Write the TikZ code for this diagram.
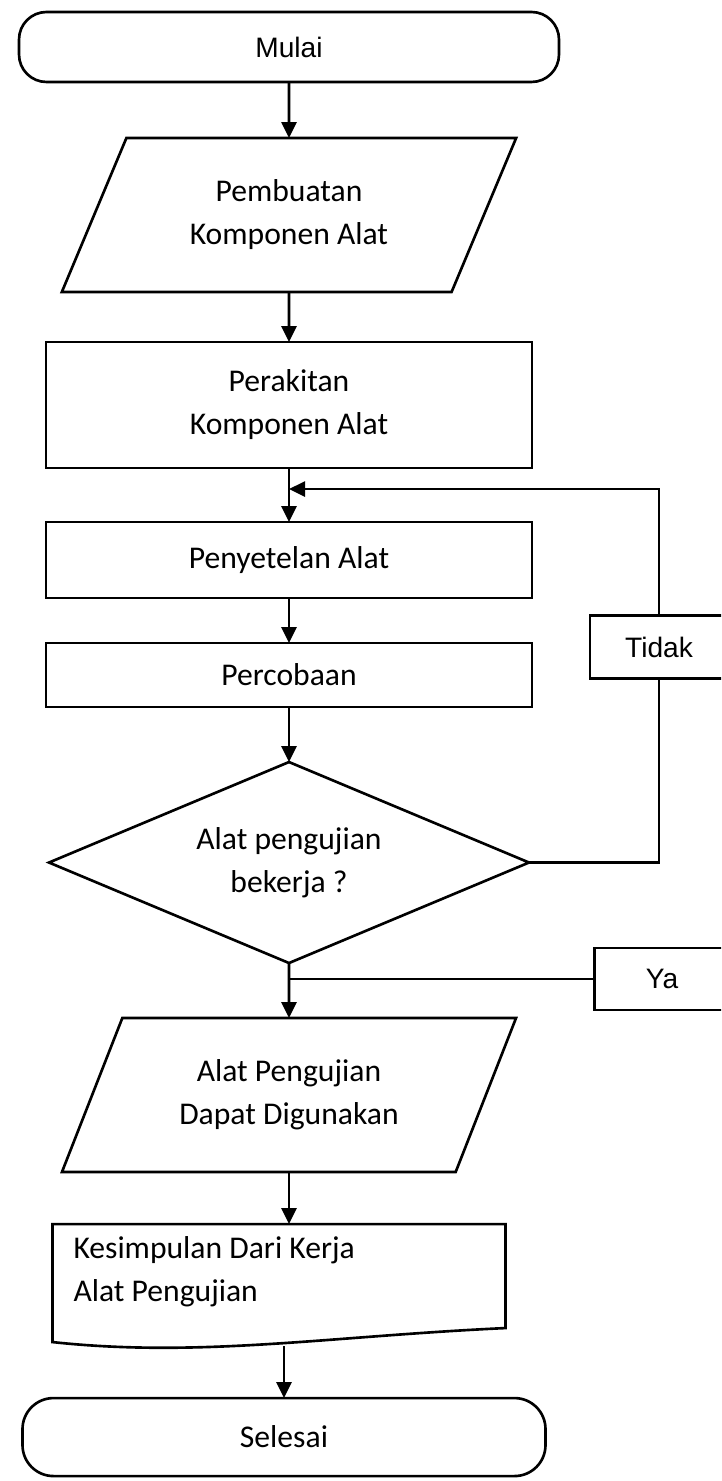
\documentclass[tikz,border=0pt]{standalone}
\usepackage{fontspec}
\setmainfont{Carlito}
\newfontfamily\arialfont{Liberation Sans}
\usetikzlibrary{shapes.geometric, arrows.meta, positioning, calc}

\begin{document}
\begin{tikzpicture}[
      every node/.style={outer sep=0pt},
      terminal/.style={rectangle, rounded corners=0.55cm, draw, line width=1.5pt, minimum width=10.8cm,
      minimum height=1.4cm, font=\fontsize{18}{24}\selectfont},
      proses/.style={rectangle, draw, line width=1.5pt, minimum width=9.72cm, align=center,
      font=\fontsize{18}{24.5}\selectfont},
      data/.style={trapezium, trapezium left angle=63, trapezium right angle=117, trapezium stretches=true,
      draw, line width=1.5pt, minimum width=9.1cm, minimum height=3.08cm, align=center,
      font=\fontsize{18}{24.5}\selectfont},
      keputusan/.style={diamond, aspect=2.4, draw, line width=1.5pt, minimum width=9.6cm, minimum height=4.02cm,
      inner sep=0pt, align=center, font=\fontsize{18}{24.5}\selectfont},
      dokumen/.style={rectangle, minimum width=9.06cm, minimum height=1.92cm, text width=8.22cm,
      inner xsep=0.42cm, align=flush left, font=\fontsize{18}{24.5}\selectfont},
      jawaban/.style={rectangle, draw, line width=1.5pt, minimum width=2.76cm, minimum height=1.26cm,
      font=\arialfont\fontsize{16}{20}\selectfont},
      garis/.style={line width=1.5pt},
      arrow/.style={-{Triangle[width=0.3cm, length=0.32cm]}, line width=1.5pt}
    ]
    \clip (0,0) rectangle (14.42,-29.62);

    \node[terminal, font=\arialfont\fontsize{16}{20}\selectfont] (mulai) at (5.78,-0.94) {Mulai};
    \node[data, below=1.12cm of mulai] (pembuatan) {Pembuatan\\Komponen Alat};
    \node[proses, minimum height=2.52cm, below=1.0cm of pembuatan] (perakitan) {Perakitan\\Komponen Alat};
    \node[proses, minimum height=1.52cm, below=1.08cm of perakitan] (penyetelan) {Penyetelan Alat};
    \node[proses, minimum height=1.28cm, below=0.9cm of penyetelan] (percobaan) {Percobaan};
    \node[keputusan, below=1.1cm of percobaan] (cek) {Alat pengujian\\bekerja ?};
    \node[data, below=1.1cm of cek] (hasil) {Alat Pengujian\\Dapat Digunakan};
    \node[dokumen, below=1.04cm of hasil, xshift=-0.2cm] (kesimpulan) {Kesimpulan Dari Kerja\\Alat Pengujian};
    \node[terminal, minimum width=10.46cm, minimum height=1.56cm, rounded corners=0.62cm,
      below=1.56cm of kesimpulan, xshift=0.1cm] (selesai) {Selesai};

    \node[jawaban] (tidak) at (13.18,-12.94) {Tidak};
    \node[jawaban, minimum width=2.7cm, minimum height=1.24cm] (ya) at (13.24,-19.58) {Ya};

    % bentuk dokumen
    \draw[garis] (kesimpulan.south west) -- (kesimpulan.north west) -- (kesimpulan.north east)
      -- ($(kesimpulan.south east)+(0,-0.16)$)
      .. controls ($(kesimpulan.south)+(1.03,-0.32)$) and ($(kesimpulan.south)+(-1.57,-0.76)$)
      .. ($(kesimpulan.south west)+(0,-0.44)$) -- cycle;
    \coordinate (kesimpulan-bawah) at ($(kesimpulan.south)+(0.1,-0.52)$);
    \coordinate (balik) at ($(perakitan.south)+(0,-0.42)$);

    \draw[arrow] (mulai) -- (pembuatan);
    \draw[arrow] (pembuatan) -- (perakitan);
    \draw[arrow] (perakitan) -- (penyetelan);
    \draw[arrow] (penyetelan) -- (percobaan);
    \draw[arrow] (percobaan) -- (cek);
    \draw[arrow] (cek) -- (hasil);
    \draw[arrow] (hasil.south) -- (hasil.south |- kesimpulan.north);
    \draw[arrow] (kesimpulan-bawah) -- (kesimpulan-bawah |- selesai.north);

    \draw[garis] (cek.east) -| (tidak.south);
    \draw[arrow] (tidak.north) |- (balik);
    \draw[garis] (ya.west) -- (ya.west -| cek.south);
  \end{tikzpicture}
\end{document}
